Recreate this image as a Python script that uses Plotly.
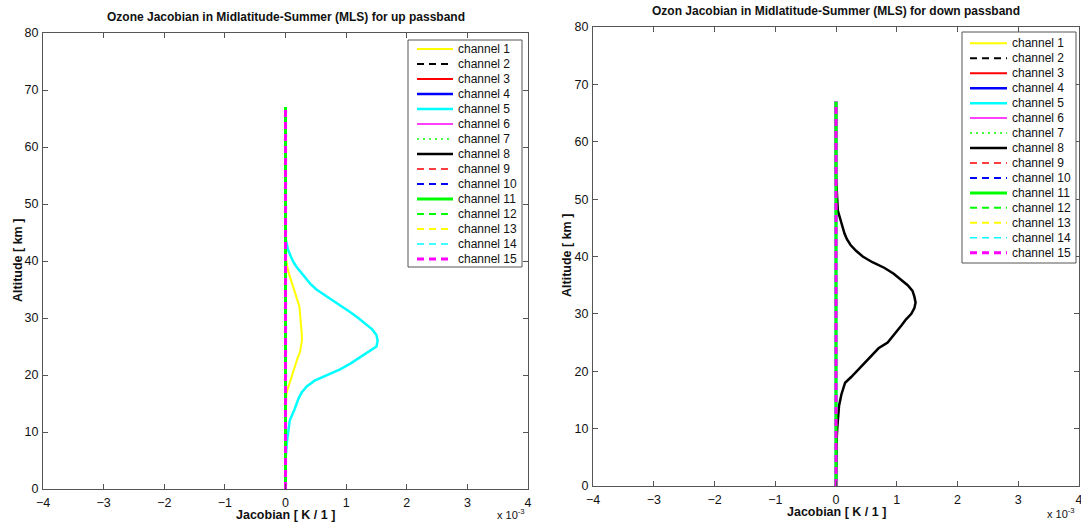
import plotly.graph_objects as go

W, H = 1081, 522
FONT = "Liberation Sans, Arial, Helvetica, sans-serif"

# ---- data (Jacobian values in units of 1e-3 K) ----
channels = [f"channel {i}" for i in range(1, 16)]

# altitude extent shared by every channel profile [km]
alt_flat = [0, 67]
jac_flat = [0, 0]

# up passband: channel 1 (yellow) and channel 5 (cyan) are non-zero
alt_up_ch1 = [0, 15, 16, 17, 18, 19, 20, 21, 22, 23, 24, 25, 26, 27, 28, 29, 30,
              31, 32, 33, 34, 35, 36, 37, 38, 39, 40, 41, 67]
jac_up_ch1 = [0, 0, 0.01, 0.02, 0.05, 0.08, 0.11, 0.14, 0.16, 0.20, 0.24, 0.26, 0.27,
              0.27, 0.26, 0.26, 0.25, 0.24, 0.23, 0.20, 0.17, 0.13, 0.10, 0.07, 0.05,
              0.03, 0.01, 0, 0]

alt_up_ch5 = [0, 5, 8, 10, 12, 14, 16, 17, 18, 19, 20, 21, 22, 23, 24, 25, 26, 27, 28,
              29, 30, 31, 32, 33, 34, 35, 36, 37, 38, 39, 40, 41, 42, 43, 44, 67]
jac_up_ch5 = [0, 0, 0.02, 0.04, 0.07, 0.15, 0.22, 0.27, 0.35, 0.48, 0.70, 0.90, 1.07,
              1.22, 1.36, 1.50, 1.52, 1.50, 1.43, 1.32, 1.20, 1.07, 0.93, 0.78, 0.64,
              0.51, 0.41, 0.33, 0.25, 0.18, 0.12, 0.08, 0.04, 0.02, 0, 0]

# down passband: channel 8 (black) is non-zero
alt_dn_ch8 = [0, 6, 8, 10, 12, 14, 16, 17, 18, 19, 20, 21, 22, 23, 24, 25, 26, 27, 28,
              29, 30, 31, 32, 33, 34, 35, 36, 37, 38, 39, 40, 41, 42, 43, 44, 45, 46,
              47, 48, 50, 52, 53, 54, 67]
jac_dn_ch8 = [0, 0, 0.01, 0.02, 0.03, 0.05, 0.09, 0.12, 0.15, 0.25, 0.34, 0.43, 0.52,
              0.60, 0.70, 0.85, 0.93, 1.01, 1.08, 1.15, 1.24, 1.29, 1.31, 1.29, 1.26,
              1.18, 1.07, 0.95, 0.80, 0.60, 0.44, 0.33, 0.24, 0.18, 0.14, 0.11, 0.08,
              0.05, 0.03, 0.02, 0.015, 0.01, 0, 0]

x_ticks = [-4, -3, -2, -1, 0, 1, 2, 3, 4]
y_ticks = [0, 10, 20, 30, 40, 50, 60, 70, 80]

# ---- line styles per channel ----
DASH = "7px,5px"
DOT = "2px,4px"
styles = [
    ("#ffff00", "solid", 2),
    ("#000000", DASH, 2),
    ("#ff0000", "solid", 2),
    ("#0000ff", "solid", 2.5),
    ("#00ffff", "solid", 2.5),
    ("#ff00ff", "solid", 1.5),
    ("#00ff00", DOT, 1.5),
    ("#000000", "solid", 2.5),
    ("#ff0000", DASH, 1.5),
    ("#0000ff", DASH, 2),
    ("#00ff00", "solid", 3),
    ("#00ff00", DASH, 2),
    ("#ffff00", DASH, 2),
    ("#00ffff", DASH, 1.5),
    ("#ff00ff", DASH, 3),
]

profiles_up = {0: (alt_up_ch1, jac_up_ch1), 4: (alt_up_ch5, jac_up_ch5)}
profiles_dn = {7: (alt_dn_ch8, jac_dn_ch8)}

fig = go.Figure()

for panel, profiles in ((1, profiles_up), (2, profiles_dn)):
    for i, name in enumerate(channels):
        alt, jac = profiles.get(i, (alt_flat, jac_flat))
        color, dash, width = styles[i]
        fig.add_trace(go.Scatter(
            x=jac, y=alt, mode="lines", name=name, showlegend=False,
            line=dict(color=color, dash=dash, width=width),
            xaxis="x" if panel == 1 else "x2",
            yaxis="y" if panel == 1 else "y2",
        ))


def px(x):
    return x / W


def py(y):
    return 1 - y / H


axis_common = dict(
    showline=True, linecolor="#555555", linewidth=1, mirror="ticks",
    ticks="inside", ticklen=5, tickcolor="#555555", showgrid=False,
    zeroline=False, automargin=False,
    tickfont=dict(family=FONT, size=12.5, color="#111111"),
)

# axes placement (pixels)
left_box = (43, 528, 33, 489)
right_box = (593, 1079, 27, 486)

fig.update_layout(
    width=W, height=H, margin=dict(l=0, r=0, t=0, b=0, autoexpand=False),
    paper_bgcolor="white", plot_bgcolor="white",
    font=dict(family=FONT, color="#111111"),
    xaxis=dict(domain=[px(left_box[0]), px(left_box[1])], range=[-4, 4],
               tickvals=x_ticks, anchor="y", ticklabelstandoff=2, **axis_common),
    yaxis=dict(domain=[py(left_box[3]), py(left_box[2])], range=[0, 80],
               tickvals=y_ticks, anchor="x", ticklabelstandoff=1, **axis_common),
    xaxis2=dict(domain=[px(right_box[0]), px(right_box[1])], range=[-4, 4],
                tickvals=x_ticks, anchor="y2", ticklabelstandoff=2,
                ticklabeloverflow="allow", **axis_common),
    yaxis2=dict(domain=[py(right_box[3]), py(right_box[2])], range=[0, 80],
                tickvals=y_ticks, anchor="x2", ticklabelstandoff=1, **axis_common),
)

annotations = []
shapes = []


def text(x, y, s, size=12, bold=False, xanchor="center", yanchor="middle", angle=0):
    annotations.append(dict(
        x=px(x), y=py(y), xref="paper", yref="paper", text=f"<b>{s}</b>" if bold else s,
        showarrow=False, xanchor=xanchor, yanchor=yanchor, textangle=angle,
        font=dict(family=FONT, size=size, color="#111111"),
    ))


# titles
text((left_box[0] + left_box[1]) / 2, 17,
     "Ozone Jacobian in Midlatitude-Summer (MLS) for up passband", size=12, bold=True)
text((right_box[0] + right_box[1]) / 2, 11,
     "Ozon Jacobian in Midlatitude-Summer (MLS) for down passband", size=12, bold=True)

# axis titles
text((left_box[0] + left_box[1]) / 2, 515, "Jacobian [ K / 1 ]", size=12.5, bold=True)
text((right_box[0] + right_box[1]) / 2, 512, "Jacobian [ K / 1 ]", size=12.5, bold=True)
text(18, 261, "Altitude [ km ]", size=12.5, bold=True, angle=-90)
text(567, 256, "Altitude [ km ]", size=12.5, bold=True, angle=-90)

# axis multipliers
text(495, 514, "x 10<sup>-3</sup>", size=11, xanchor="left")
text(1045, 513, "x 10<sup>-3</sup>", size=11, xanchor="left")


# legends
def legend(box, x_line, x_text, y0, step):
    bx0, bx1, by0, by1 = box
    shapes.append(dict(type="rect", xref="paper", yref="paper",
                       x0=px(bx0), x1=px(bx1), y0=py(by1), y1=py(by0),
                       line=dict(color="#555555", width=1), fillcolor="white", layer="above"))
    for i, name in enumerate(channels):
        color, dash, width = styles[i]
        y = y0 + step * i
        shapes.append(dict(type="line", xref="paper", yref="paper",
                           x0=px(x_line[0]), x1=px(x_line[1]), y0=py(y), y1=py(y),
                           line=dict(color=color, dash=dash, width=width), layer="above"))
        text(x_text, y, name, size=12, xanchor="left")


legend((408, 522, 40, 267), (417, 453), 456, 49, 15.0)
legend((962, 1076, 32, 263), (970, 1007), 1010, 43.3, 14.96)

fig.update_layout(annotations=annotations, shapes=shapes)

fig.write_html("out.html")
